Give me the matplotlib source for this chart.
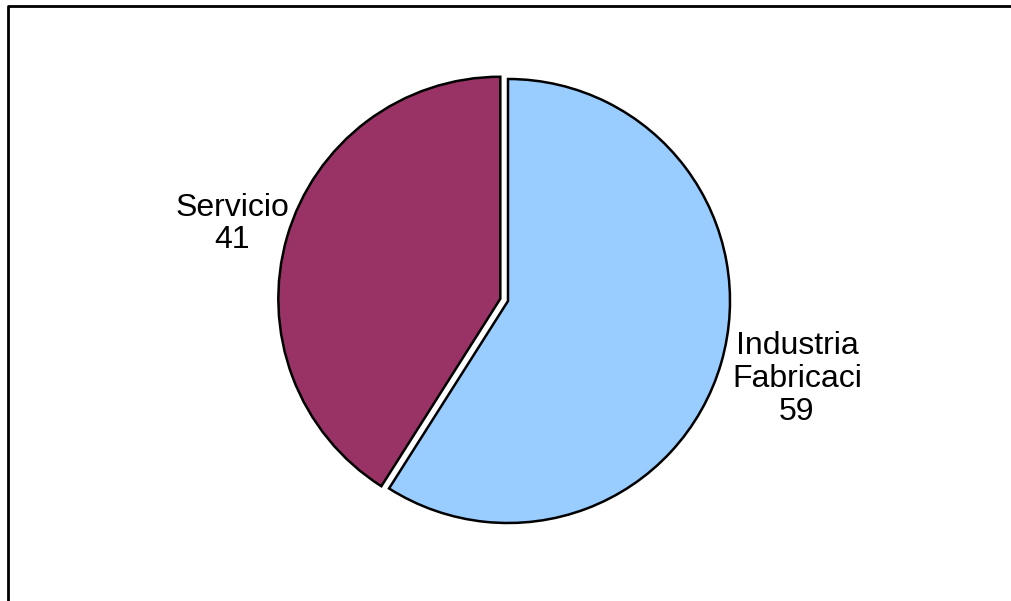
import matplotlib.pyplot as plt

# Datos
etiquetas = ['Industria\nFabricaci', 'Servicio']
valores = [59, 41]
colores = ['#99CCFF', '#993366']

W, H = 1012, 601
fig = plt.figure(figsize=(W / 100, H / 100), dpi=100)
ax = fig.add_axes([0, 0, 1, 1])

# Pastel (coordenadas en pixeles, y hacia arriba)
wedges, _ = ax.pie(valores, colors=colores, startangle=90, counterclock=False,
                   explode=[0, 8], center=(508, H - 301), radius=222,
                   wedgeprops=dict(edgecolor='black', linewidth=1.8),
                   frame=True)

# Etiquetas de datos
ax.text(797, H - 379, f'{etiquetas[0]}\n{valores[0]}', ha='center', va='center',
        fontsize=23, family='Liberation Sans', linespacing=1.12)
ax.text(232, H - 224, f'{etiquetas[1]}\n{valores[1]}', ha='center', va='center',
        fontsize=23, family='Liberation Sans', linespacing=1.12)

# Borde del area del grafico
ax.plot([8, 8, W + 5], [-5, H - 6, H - 6], color='black', linewidth=2)

ax.set_xlim(0, W)
ax.set_ylim(0, H)
ax.set_aspect('auto')
ax.axis('off')

plt.savefig('out.png', dpi=100)
